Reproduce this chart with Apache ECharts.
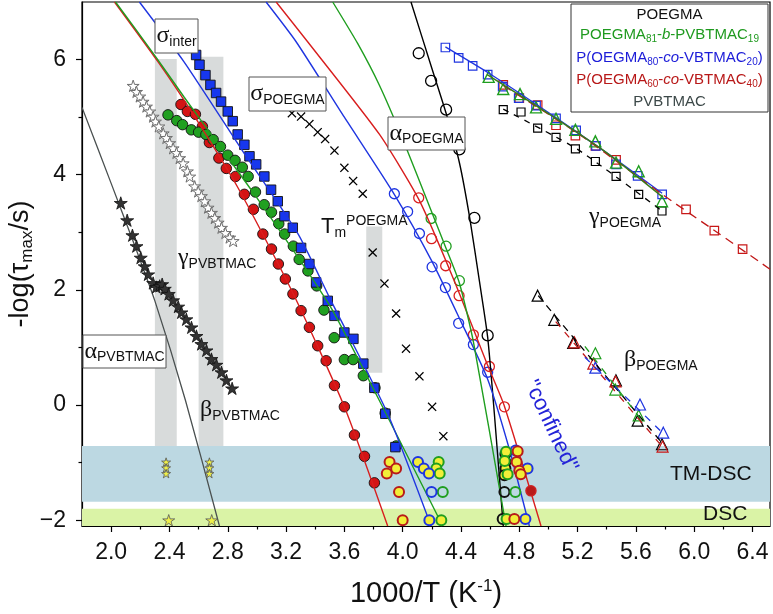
<!DOCTYPE html>
<html><head><meta charset="utf-8">
<script src="https://cdn.jsdelivr.net/npm/echarts@6.0.0/dist/echarts.min.js"></script>
<style>html,body{margin:0;padding:0;background:#fff}#c{width:773px;height:614px}</style>
</head><body><div id="c"></div>
<script>
// ---------- axis ticks ----------
const xTickValues = [2.0,2.4,2.8,3.2,3.6,4.0,4.4,4.8,5.2,5.6,6.0,6.4];
const xMinorValues = [2.2,2.6,3.0,3.4,3.8,4.2,4.6,5.0,5.4,5.8,6.2];
const yTickValues = [-2,0,2,4,6];
const yMinorValues = [-1,1,3,5];

// ---------- background regions ----------
const horizontalBands = [[1.8,6.52,-1.68,-0.71],[1.8,6.52,-2.1,-1.80]];
const grayBars = [[2.30,2.45,-0.71,6.01],[2.60,2.77,-0.71,6.05],[3.75,3.86,0.56,3.10]];

// ---------- PVBTMAC ----------
const pvbtmacAlphaStars = [[2.066,3.51],[2.11,3.21],[2.146,2.95],[2.174,2.76],[2.203,2.56],[2.23,2.41],[2.254,2.27],[2.288,2.12],[2.31,2.05],[2.333,2.07],[2.35,2.10],[2.368,2.02],[2.395,1.93],[2.425,1.82],[2.46,1.71],[2.482,1.61],[2.516,1.49],[2.551,1.35],[2.585,1.20],[2.619,1.06],[2.654,0.95],[2.688,0.80],[2.722,0.70],[2.757,0.57],[2.791,0.43],[2.83,0.29]];
const pvbtmacGammaStars = [[2.151,5.545],[2.174,5.44],[2.196,5.36],[2.219,5.27],[2.242,5.185],[2.265,5.10],[2.288,5.01],[2.304,4.925],[2.327,4.84],[2.357,4.72],[2.379,4.64],[2.402,4.55],[2.425,4.46],[2.448,4.38],[2.47,4.29],[2.494,4.20],[2.523,4.06],[2.539,3.97],[2.573,3.80],[2.597,3.71],[2.619,3.63],[2.642,3.54],[2.665,3.43],[2.688,3.34],[2.711,3.25],[2.734,3.17],[2.757,3.08],[2.784,2.99],[2.813,2.91],[2.837,2.85]];
const pvbtmacAlphaFit = [[1.8,5.17],[2.0,3.85],[2.15,2.85],[2.3,1.81],[2.51,0.08],[2.743,-2.1]];
const pvbtmacTmdscStars = [[2.377,-0.99],[2.377,-1.09],[2.377,-1.19],[2.674,-0.99],[2.674,-1.09],[2.674,-1.19]];
const pvbtmacDscStars = [[2.395,-2.0],[2.69,-2.0]];

// ---------- sigma_inter (filled) ----------
const redFilled = [[2.479,5.22],[2.523,5.10],[2.578,5.05],[2.626,4.84],[2.674,4.56],[2.739,4.29],[2.79,4.11],[2.853,3.97],[2.914,3.66],[2.976,3.40],[3.041,2.97],[3.10,2.71],[3.147,2.45],[3.195,2.19],[3.247,1.93],[3.303,1.64],[3.36,1.35],[3.417,1.03],[3.475,0.77],[3.532,0.34],[3.60,-0.03],[3.669,-0.52],[3.738,-0.89],[3.806,-1.35]];
const greenFilled = [[2.39,5.04],[2.45,4.94],[2.49,4.87],[2.55,4.78],[2.60,4.74],[2.65,4.70],[2.70,4.61],[2.75,4.49],[2.80,4.34],[2.85,4.25],[2.90,4.13],[2.94,3.97],[2.99,3.70],[3.05,3.48],[3.10,3.35],[3.15,3.15],[3.19,2.97],[3.25,2.76],[3.29,2.53],[3.35,2.33],[3.41,2.07],[3.46,1.65],[3.53,1.17],[3.60,0.79],[3.66,0.79],[3.73,0.51],[3.81,0.30],[3.88,-0.14],[3.955,-0.71]];
const blueFilled = [[2.583,6.08],[2.606,5.91],[2.647,5.73],[2.681,5.56],[2.72,5.42],[2.754,5.27],[2.80,5.10],[2.834,4.93],[2.868,4.70],[2.914,4.52],[2.949,4.32],[2.995,4.18],[3.051,3.97],[3.097,3.74],[3.143,3.54],[3.189,3.28],[3.246,3.08],[3.303,2.73],[3.36,2.45],[3.406,2.13],[3.486,1.81],[3.532,1.55],[3.60,1.26],[3.662,1.15],[3.73,0.72],[3.806,0.30],[3.881,-0.15],[3.95,-0.73]];
const redFilledFit = [[2.023,7.0],[2.322,5.96],[2.55,5.10],[2.871,3.77],[3.25,1.93],[3.6,-0.03],[3.897,-2.1]];
const greenFilledFit = [[2.03,7.0],[2.3,6.07],[2.5,5.35],[2.72,4.58],[3.0,3.6],[3.3,2.5],[3.52,1.64],[3.874,-0.09],[4.275,-2.1]];
const blueFilledFit = [[2.194,7.0],[2.5,5.96],[2.9,4.42],[3.283,2.97],[3.509,1.81],[3.897,-0.15],[4.195,-2.1]];

// ---------- sigma_POEGMA / Tm (crosses) ----------
const poegmaCrosses = [[3.24,5.07],[3.303,5.01],[3.36,4.88],[3.417,4.74],[3.468,4.62],[3.532,4.42],[3.60,4.12],[3.66,3.89],[3.726,3.67],[3.794,2.65],[3.875,2.11],[3.955,1.59],[4.023,0.98],[4.115,0.50],[4.202,-0.03],[4.279,-0.54]];

// ---------- alpha_POEGMA (open circles) ----------
const blackOpen = [[4.11,6.11],[4.195,5.63],[4.298,5.13],[4.389,4.44],[4.492,3.25],[4.583,1.21]];
const blueOpen = [[3.943,3.67],[4.034,3.36],[4.115,2.98],[4.202,2.40],[4.293,2.04],[4.384,1.42],[4.485,1.05],[4.583,0.57]];
const redOpen = [[4.11,3.60],[4.198,2.89],[4.295,2.42],[4.387,1.90],[4.485,1.22],[4.595,0.67],[4.698,-0.03]];
const greenOpen = [[4.195,3.24],[4.298,2.76],[4.389,2.16]];
const blackOpenFit = [[4.057,7.0],[4.2,5.85],[4.3,5.05],[4.39,4.2],[4.46,3.25],[4.526,2.16],[4.583,1.18],[4.629,-0.15],[4.69,-2.1]];
const blueOpenFit = [[3.063,7.0],[3.269,6.31],[3.6,5.0],[3.93,3.71],[4.2,2.5],[4.4,1.45],[4.583,0.45],[4.73,-0.75],[4.869,-2.1]];
const redOpenFit = [[3.132,7.0],[3.348,6.31],[3.841,4.70],[4.115,3.55],[4.355,2.15],[4.583,0.69],[4.698,-0.02],[4.949,-2.1]];
const greenOpenFit = [[3.52,7.0],[3.691,6.28],[3.841,5.55],[4.0,4.62],[4.195,3.38],[4.298,2.72],[4.389,2.12],[4.485,1.10],[4.709,-2.1]];

// ---------- calorimetry points (yellow) ----------
const calRed = [[3.91,-0.99],[3.955,-1.10],[3.891,-1.19],[3.975,-1.51],[4.0,-2.0],[4.789,-0.80],[4.782,-0.99],[4.80,-1.14],[4.81,-1.20],[4.766,-1.98]];
const calRedSolid = [[4.88,-1.49]];
const calBlue = [[4.105,-0.99],[4.145,-1.10],[4.18,-1.19],[4.183,-2.0],[4.857,-1.10],[4.842,-1.98]];
const calBlueOpen = [[4.198,-1.51],[4.775,-0.79]];
const calGreen = [[4.247,-0.99],[4.231,-1.10],[4.254,-1.19],[4.265,-2.0],[4.709,-0.81],[4.70,-0.97],[4.72,-1.20],[4.713,-1.98]];
const calGreenOpen = [[4.275,-1.51],[4.773,-1.51]];
const calBlack = [[4.705,-0.85],[4.705,-0.99],[4.705,-1.10],[4.698,-1.22]];
const calBlackOpen = [[4.698,-1.51],[4.686,-1.98]];

// ---------- gamma_POEGMA ----------
const gammaBlueSq = [[4.293,6.21],[4.384,6.03],[4.48,5.89],[4.583,5.74],[4.686,5.53],[4.796,5.33],[4.915,5.20],[5.052,4.98],[5.19,4.77],[5.326,4.50],[5.464,4.18],[5.612,3.98],[5.78,3.66]];
const gammaGreenTri = [[4.59,5.70],[4.69,5.49],[4.805,5.40],[4.915,5.17],[5.052,4.97],[5.185,4.78],[5.322,4.58],[5.464,4.21],[5.619,4.06],[5.779,3.54]];
const gammaRedSq = [[4.69,5.56],[4.80,5.33],[4.926,5.21],[5.052,4.86],[5.185,4.68],[5.322,4.50],[5.464,4.26],[5.944,3.40],[6.138,3.03],[6.332,2.71]];
const gammaBlackSq = [[4.69,5.13],[4.812,5.09],[4.926,4.81],[5.052,4.65],[5.185,4.45],[5.322,4.23],[5.464,3.97],[5.619,3.66],[5.779,3.37]];
const gammaBlueFit = [[4.293,6.22],[4.6,5.75],[5.0,5.08],[5.4,4.38],[5.78,3.68]];
const gammaGreenFit = [[4.58,5.74],[5.0,5.06],[5.4,4.38],[5.78,3.62]];
const gammaRedFit = [[4.69,5.55],[5.2,4.72],[5.78,3.66],[6.1,3.1],[6.52,2.36]];
const gammaBlackFit = [[4.69,5.14],[5.2,4.44],[5.78,3.37]];

// ---------- beta_POEGMA ----------
const betaBlackTri = [[4.926,1.90],[5.04,1.48],[5.17,1.08],[5.463,0.43],[5.612,-0.27],[5.779,-0.68]];
const betaRedTri = [[5.178,1.09],[5.308,0.72],[5.46,0.41],[5.783,-0.72]];
const betaGreenTri = [[5.322,0.90],[5.459,0.27],[5.619,-0.18]];
const betaBlueTri = [[5.322,0.65],[5.628,0.01],[5.788,-0.48]];
const betaBlackFit = [[4.93,1.90],[5.78,-0.66]];
const betaRedFit = [[5.05,1.45],[5.78,-0.72]];
const betaGreenFit = [[5.25,1.02],[5.65,-0.30]];
const betaBlueFit = [[5.25,0.83],[5.79,-0.50]];

// ---------- styles ----------
const RED='#d81e1e', GREEN='#1f9e1f', BLUE='#1f35e0';
const STAR='path://M10,0L12.245,6.91L19.51,6.91L13.63,11.18L15.88,18.09L10,13.82L4.12,18.09L6.37,11.18L0.49,6.91L7.755,6.91Z';
const CROSS='path://M1,0L5,4L9,0L10,1L6,5L10,9L9,10L5,6L1,10L0,9L4,5L0,1Z';
const SANS='Liberation Sans', SERIF='Liberation Serif';
const NONE='rgba(0,0,0,0)';

function sc(data, symbol, size, fill, border, bw, z){
  return {type:'scatter', data, symbol, symbolSize:size, symbolKeepAspect:true, silent:true, z:z||4,
    itemStyle:{color:fill, borderColor:border, borderWidth:bw, opacity:1}};
}
function ln(data, color, width, dash, z){
  return {type:'line', data, smooth:0.2, showSymbol:false, symbol:'none', silent:true, z:z||5,
    lineStyle:{color, width, type:dash||'solid'}};
}
const bandColors = ['#bcd8e2','#daf3a6'];
function rectSeries(data, colorFn, z){
  return {type:'custom', silent:true, z, clip:true, data, encode:{x:[0,1], y:[2,3]},
    renderItem:(p, api)=>{
      const a = api.coord([api.value(0), api.value(3)]);
      const b = api.coord([api.value(1), api.value(2)]);
      return {type:'rect', shape:{x:a[0], y:a[1], width:b[0]-a[0], height:b[1]-a[1]}, style:{fill:colorFn(p.dataIndex)}};
    }};
}

const series = [
  rectSeries(horizontalBands, i=>bandColors[i], 1),
  rectSeries(grayBars, ()=>'#d8dbdb', 1),
  ln(pvbtmacAlphaFit, '#4a5050', 1.3, 'solid', 3),
  sc(pvbtmacGammaStars, STAR, 12, '#fff', '#6e6e6e', 1, 4),
  sc(pvbtmacAlphaStars, STAR, 13, '#333', '#111', 0.8, 4),
  sc(pvbtmacTmdscStars, STAR, 9, '#eef04a', '#555', 0.8, 4),
  sc(pvbtmacDscStars, STAR, 12, '#eef04a', '#555', 0.8, 4),
  sc(redFilled, 'circle', 10.5, '#d41414', '#111', 0.9, 4),
  sc(greenFilled, 'circle', 10.5, '#21a021', '#111', 0.9, 4),
  sc(blueFilled, 'rect', 9.5, '#1737ee', '#111', 0.9, 4),
  ln(redFilledFit, RED, 1.4),
  ln(greenFilledFit, GREEN, 1.4),
  ln(blueFilledFit, BLUE, 1.4),
  sc(poegmaCrosses, CROSS, 9, '#000', '#000', 0, 4),
  sc(blackOpen, 'circle', 11, NONE, '#000', 1.3, 4),
  sc(blueOpen, 'circle', 10, NONE, BLUE, 1.3, 4),
  sc(redOpen, 'circle', 10, NONE, RED, 1.3, 4),
  sc(greenOpen, 'circle', 10, NONE, GREEN, 1.3, 4),
  ln(blackOpenFit, '#000', 1.4),
  ln(blueOpenFit, BLUE, 1.4),
  ln(redOpenFit, RED, 1.4),
  ln(greenOpenFit, GREEN, 1.4),
  sc(calBlackOpen, 'circle', 10, NONE, '#111', 2, 6),
  sc(calGreenOpen, 'circle', 10, NONE, GREEN, 2, 6),
  sc(calBlueOpen, 'circle', 10, NONE, BLUE, 2, 6),
  sc(calBlack, 'circle', 10, '#f2ee38', '#111', 2, 6),
  sc(calGreen, 'circle', 10, '#f2ee38', GREEN, 2, 6),
  sc(calBlue, 'circle', 10, '#f2ee38', BLUE, 2, 6),
  sc(calRed, 'circle', 10, '#f2ee38', '#b81a1a', 2, 6),
  sc(calRedSolid, 'circle', 10, '#b81a1a', '#c22', 1.5, 6),
  ln(gammaBlackFit, '#000', 1.3, [6,6], 5),
  sc(gammaBlackSq, 'rect', 8, NONE, '#000', 1.2, 4),
  ln(gammaBlueFit, BLUE, 1.3, 'solid', 5),
  ln(gammaRedFit, '#c01818', 1.3, [9,6], 5),
  sc(gammaRedSq, 'rect', 8.5, NONE, '#c81818', 1.2, 4),
  sc(gammaBlueSq, 'rect', 8.5, NONE, BLUE, 1.2, 4),
  ln(gammaGreenFit, '#3a7a1a', 1.5, 'solid', 5),
  sc(gammaGreenTri, 'triangle', 11, NONE, GREEN, 1.4, 4),
  ln(betaBlackFit, '#000', 1.3, [7,6], 5),
  ln(betaRedFit, '#c01818', 1.3, [7,7], 5),
  ln(betaGreenFit, GREEN, 1.3, [7,7], 5),
  ln(betaBlueFit, BLUE, 1.3, [7,7], 5),
  sc(betaBlackTri, 'triangle', 11, NONE, '#000', 1.2, 4),
  sc(betaRedTri, 'triangle', 11, NONE, '#c81818', 1.2, 4),
  sc(betaGreenTri, 'triangle', 11, NONE, GREEN, 1.2, 4),
  sc(betaBlueTri, 'triangle', 11, NONE, BLUE, 1.2, 4)
];

// ---------- text annotations ----------
const rich = {
  g:{fontFamily:SERIF, fontSize:24, lineHeight:26, verticalAlign:'middle'},
  t:{fontFamily:SANS, fontSize:22, lineHeight:26, verticalAlign:'middle'},
  s:{fontFamily:SANS, fontSize:14, lineHeight:12, verticalAlign:'bottom'},
  p:{fontFamily:SANS, fontSize:14, lineHeight:12, verticalAlign:'top'}
};
function txt(x, y, text, align, extra){
  return Object.assign({type:'text', z:100, silent:true, style:{text, x, y, align:align||'left', verticalAlign:'middle', fill:'#111', rich, fontFamily:SANS}}, extra||{});
}
function box(x, y, w, h){
  return {type:'rect', z:99, silent:true, shape:{x, y, width:w, height:h}, style:{fill:'#fff', stroke:'#555', lineWidth:1}};
}
const lrich = {
  n:{fontFamily:SANS, fontSize:15, lineHeight:18, verticalAlign:'middle'},
  i:{fontFamily:SANS, fontSize:15, fontStyle:'italic', lineHeight:18, verticalAlign:'middle'},
  s:{fontFamily:SANS, fontSize:10, lineHeight:10, verticalAlign:'bottom'}
};
function leg(y, text, color){
  const r = {};
  for (const k in lrich) r[k] = Object.assign({}, lrich[k], {fill:color});
  return {type:'text', z:101, silent:true, style:{text, x:669.5, y, align:'center', verticalAlign:'middle', fill:color, rich:r}};
}
const graphic = [
  box(155,19,43,34), txt(176.5,36,'{g|σ}{s|inter}','center'),
  box(249,77,77,34), txt(287.5,94,'{g|σ}{s|POEGMA}','center'),
  box(388,117,77,33), txt(426.5,133.5,'{g|α}{s|POEGMA}','center'),
  box(83,335,83,33), txt(124.5,351.5,'{g|α}{s|PVBTMAC}','center'),
  txt(178,258,'{g|γ}{s|PVBTMAC}'),
  txt(200,410,'{g|β}{s|PVBTMAC}'),
  txt(321,227,'{t|T}{s|m}{p|POEGMA}'),
  txt(589,217,'{g|γ}{s|POEGMA}'),
  txt(624,360,'{g|β}{s|POEGMA}'),
  {type:'text', z:100, silent:true, style:{text:'TM-DSC', x:670, y:474, verticalAlign:'middle', fill:'#111', fontFamily:SANS, fontSize:21}},
  {type:'text', z:100, silent:true, style:{text:'DSC', x:703, y:514, verticalAlign:'middle', fill:'#111', fontFamily:SANS, fontSize:21}},
  {type:'text', z:100, silent:true, x:551, y:426, rotation:-1.13, style:{text:'"confined"', x:0, y:0, align:'center', verticalAlign:'middle', fill:'#2424d8', fontFamily:SANS, fontSize:22}},
  {type:'rect', z:100, silent:true, shape:{x:571, y:4, width:197, height:108}, style:{fill:'#fff', stroke:'#333', lineWidth:1}},
  leg(15,'{n|POEGMA}','#111'),
  leg(35,'{n|POEGMA}{s|81}{n|-}{i|b}{n|-PVBTMAC}{s|19}','#1f9a1f'),
  leg(58,'{n|P(OEGMA}{s|80}{n|-}{i|co}{n|-VBTMAC}{s|20}{n|)}','#1c1cd8'),
  leg(80,'{n|P(OEGMA}{s|60}{n|-}{i|co}{n|-VBTMAC}{s|40}{n|)}','#b81818'),
  leg(102,'{n|PVBTMAC}','#3c4848'),
  {type:'text', z:100, silent:true, x:21, y:264, rotation:Math.PI/2, style:{text:'{a|-log(}{b|τ}{c|max}{a|/s)}', x:0, y:0, align:'center', verticalAlign:'middle', fill:'#111',
    rich:{a:{fontFamily:SANS, fontSize:27, lineHeight:30, verticalAlign:'middle'}, b:{fontFamily:SANS, fontSize:27, lineHeight:30, verticalAlign:'middle'}, c:{fontFamily:SANS, fontSize:17, lineHeight:15, verticalAlign:'bottom'}}}},
  {type:'text', z:100, silent:true, style:{text:'{a|1000/T (K}{c|-1}{a|)}', x:426, y:594, align:'center', verticalAlign:'middle', fill:'#111',
    rich:{a:{fontFamily:SANS, fontSize:29, lineHeight:32, verticalAlign:'middle'}, c:{fontFamily:SANS, fontSize:17, lineHeight:15, verticalAlign:'top'}}}}
];

const axisBase = {type:'value', min:1.8, max:6.52, splitLine:{show:false}};
const option = {
  animation:false,
  backgroundColor:'#fff',
  grid:{left:82, top:2, width:688, height:524, show:true, borderColor:'#000', borderWidth:1.2, backgroundColor:'rgba(0,0,0,0)'},
  xAxis:[
    Object.assign({}, axisBase, {position:'bottom', axisLine:{show:true, onZero:false, lineStyle:{color:'#000', width:1.2}},
      axisTick:{show:true, customValues:xTickValues, length:6, lineStyle:{color:'#000', width:1.2}},
      axisLabel:{customValues:xTickValues, formatter:v=>v.toFixed(1), fontSize:23, color:'#111', fontFamily:SANS, margin:15}}),
    Object.assign({}, axisBase, {position:'bottom', axisLine:{show:false, onZero:false},
      axisTick:{show:true, customValues:xMinorValues, length:3.5, lineStyle:{color:'#000', width:1.2}}, axisLabel:{show:false}})
  ],
  yAxis:[
    {type:'value', min:-2.1, max:7, position:'left', splitLine:{show:false}, axisLine:{show:true, onZero:false, lineStyle:{color:'#000', width:1.2}},
      axisTick:{show:true, customValues:yTickValues, length:6, lineStyle:{color:'#000', width:1.2}},
      axisLabel:{customValues:yTickValues, formatter:v=>(v<0?'\u2212':'')+Math.abs(v), fontSize:23, color:'#111', fontFamily:SANS, margin:16}},
    {type:'value', min:-2.1, max:7, position:'left', splitLine:{show:false}, axisLine:{show:false, onZero:false},
      axisTick:{show:true, customValues:yMinorValues, length:3.5, lineStyle:{color:'#000', width:1.2}}, axisLabel:{show:false}}
  ],
  series,
  graphic
};
const chart = echarts.init(document.getElementById('c'));
chart.setOption(option);
</script></body></html>
